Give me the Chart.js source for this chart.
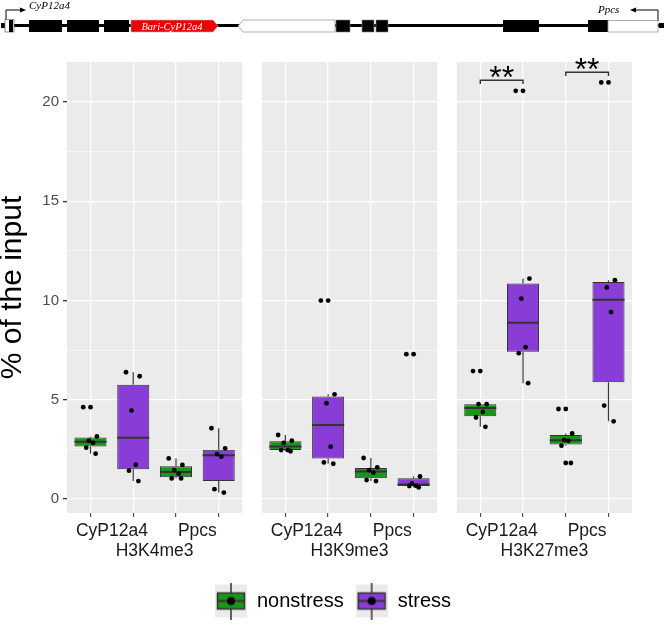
<!DOCTYPE html>
<html>
<head>
<meta charset="utf-8">
<script src="https://cdn.jsdelivr.net/npm/chart.js@4.4.1/dist/chart.umd.min.js"></script>
<style>
  html, body { margin: 0; padding: 0; background: #fff; }
  #wrap { position: relative; width: 666px; height: 625px; }
  #chart, #genes { position: absolute; left: 0; top: 0; }
</style>
</head>
<body>
<div id="wrap">
  <canvas id="chart" width="666" height="625"></canvas>
  <!-- gene model schematic above the plot -->
  <svg id="genes" width="666" height="46" viewBox="0 0 666 46">
    <line x1="2" y1="25.5" x2="664" y2="25.5" stroke="#000" stroke-width="3"/>
    <rect x="1" y="23" width="4" height="5" fill="#000"/>
    <rect x="659" y="23" width="5" height="5" fill="#000"/>
    <rect x="5" y="19.5" width="9" height="12.5" fill="#fff" stroke="#777" stroke-width="0.8"/>
    <rect x="9" y="20" width="4" height="12" fill="#000"/>
    <polyline points="6,19.5 6,10 22,10" fill="none" stroke="#000" stroke-width="1"/>
    <polygon points="20,7.5 26,10 20,12.5" fill="#000"/>
    <text x="29" y="9" font-family="'Liberation Serif', serif" font-style="italic" font-size="11">CyP12a4</text>
    <rect x="29" y="20" width="33" height="12" fill="#000"/>
    <rect x="67" y="20" width="32" height="12" fill="#000"/>
    <rect x="104" y="20" width="25" height="12" fill="#000"/>
    <polygon points="131,20 213,20 218,26 213,32 131,32" fill="#ee0000" stroke="#bbb" stroke-width="0.6"/>
    <text x="172" y="29.5" text-anchor="middle" fill="#fff" font-family="'Liberation Serif', serif" font-style="italic" font-size="10.5">Bari-CyP12a4</text>
    <polygon points="238,26 243,20 335,20 335,32 243,32" fill="#fff" stroke="#999" stroke-width="0.8"/>
    <rect x="336" y="20" width="14" height="12" fill="#000" stroke="#888" stroke-width="0.6"/>
    <rect x="362" y="20" width="12" height="12" fill="#000" stroke="#888" stroke-width="0.6"/>
    <rect x="376" y="20" width="12" height="12" fill="#000" stroke="#888" stroke-width="0.6"/>
    <rect x="503" y="20" width="36" height="12" fill="#000"/>
    <rect x="588" y="20" width="20" height="12" fill="#000"/>
    <rect x="608" y="20.5" width="50" height="11.5" fill="#fff" stroke="#999" stroke-width="0.8"/>
    <polyline points="658,20.5 658,10 634,10" fill="none" stroke="#000" stroke-width="1"/>
    <polygon points="636,7.5 630,10 636,12.5" fill="#000"/>
    <text x="598" y="13" font-family="'Liberation Serif', serif" font-style="italic" font-size="11">Ppcs</text>
  </svg>
</div>
<script>
// ---- data (% of the input, 6 replicates per box) ----
const marks = ["H3K4me3", "H3K9me3", "H3K27me3"];
const genes = ["CyP12a4", "Ppcs"];
const conditions = ["nonstress", "stress"];

// order in each mark: CyP12a4 nonstress, CyP12a4 stress, Ppcs nonstress, Ppcs stress
const h3k4me3 = [
  [2.29, 2.59, 2.83, 2.94, 3.16, 4.63],
  [0.91, 1.43, 1.73, 4.46, 6.19, 6.39],
  [1.04, 1.04, 1.28, 1.46, 1.72, 2.05],
  [0.33, 0.50, 2.14, 2.27, 2.56, 3.57]
];
const h3k9me3 = [
  [2.41, 2.47, 2.47, 2.83, 2.94, 3.23],
  [1.78, 1.85, 2.64, 4.83, 5.28, 10.0],
  [0.91, 0.96, 1.33, 1.46, 1.60, 2.07],
  [0.59, 0.66, 0.67, 0.79, 1.14, 7.30]
];
const h3k27me3 = [
  [3.64, 4.11, 4.39, 4.78, 4.78, 6.45],
  [5.84, 7.35, 7.66, 10.1, 11.11, 20.57],
  [1.82, 2.69, 2.94, 2.98, 3.31, 4.54],
  [3.92, 4.71, 9.42, 10.66, 11.03, 20.99]
];

const yTicks = [0, 5, 10, 15, 20];

// significance brackets, H3K27me3 panel
const sigGene = [0, 1];
const sigY = [21.1, 21.5];
const sigText = ["**", "**"];

// ---- layout / style ----
const FONT = "'Liberation Sans', Arial, Helvetica, sans-serif";
const COLORS = ["#189818", "#8a3cd6"];
const PANEL_STEP = 4.56;   // x distance between facets
const X_EXPAND = 0.55;
const BOX_W = 0.75;
const JITTER = [0.12, -0.1, 0.06, -0.04, 0.15, -0.17];

function quantile(s, p) {
  const h = (s.length - 1) * p, lo = Math.floor(h), hi = Math.min(lo + 1, s.length - 1);
  return s[lo] + (h - lo) * (s[hi] - s[lo]);
}

function boxStats(vals) {
  const s = vals.slice().sort((a, b) => a - b);
  const q1 = quantile(s, 0.25), med = quantile(s, 0.5), q3 = quantile(s, 0.75);
  const iqr = q3 - q1, loF = q1 - 1.5 * iqr, hiF = q3 + 1.5 * iqr;
  const inside = s.filter(v => v >= loF && v <= hiF);
  return {
    q1, med, q3,
    lo: inside[0], hi: inside[inside.length - 1],
    out: s.filter(v => v < loF || v > hiF)
  };
}

const panels = [h3k4me3, h3k9me3, h3k27me3];
const boxes = [];
panels.forEach((panel, p) => {
  panel.forEach((vals, k) => {
    boxes.push(Object.assign({ x: p * PANEL_STEP + k + 1, cond: k % 2, vals }, boxStats(vals)));
  });
});

const catPos = boxes.map(b => b.x);
const genePos = [];
const markPos = [];
marks.forEach((m, p) => {
  genePos.push(p * PANEL_STEP + 1.5, p * PANEL_STEP + 3.5);
  markPos.push(p * PANEL_STEP + 2.5);
});
const xMin = 1 - X_EXPAND;
const xMax = (marks.length - 1) * PANEL_STEP + 4 + X_EXPAND;

const whiskers = [];
const medians = [];
const outliers = [];
const points = [];
boxes.forEach(b => {
  whiskers.push({ x: b.x, y: b.lo }, { x: b.x, y: b.q1 }, { x: b.x, y: null },
                { x: b.x, y: b.q3 }, { x: b.x, y: b.hi }, { x: b.x, y: null });
  medians.push({ x: b.x - BOX_W / 2, y: b.med }, { x: b.x + BOX_W / 2, y: b.med }, { x: b.x, y: null });
  b.out.forEach(v => outliers.push({ x: b.x, y: v }));
  b.vals.forEach((v, i) => points.push({ x: b.x + JITTER[i % JITTER.length], y: v }));
});

const brackets = [];
sigGene.forEach((g, i) => {
  const x1 = 2 * PANEL_STEP + g * 2 + 1, x2 = x1 + 1;
  brackets.push({ x: x1, y: sigY[i] - 0.19 }, { x: x1, y: sigY[i] }, { x: x2, y: sigY[i] },
                { x: x2, y: sigY[i] - 0.19 }, { x: x2, y: null });
});

// grey facet backgrounds
const panelBg = {
  id: "panelBg",
  beforeDraw(chart) {
    const { ctx, chartArea, scales } = chart;
    ctx.save();
    ctx.fillStyle = "#ebebeb";
    marks.forEach((m, p) => {
      const l = scales.x.getPixelForValue(p * PANEL_STEP + 1 - X_EXPAND);
      const r = scales.x.getPixelForValue(p * PANEL_STEP + 4 + X_EXPAND);
      ctx.fillRect(l, chartArea.top, r - l, chartArea.bottom - chartArea.top);
    });
    ctx.restore();
  }
};

// "**" above the brackets
const sigLabels = {
  id: "sigLabels",
  afterDatasetsDraw(chart) {
    const { ctx, scales } = chart;
    ctx.save();
    ctx.font = "32px " + FONT;
    ctx.fillStyle = "#000";
    ctx.textAlign = "center";
    ctx.textBaseline = "alphabetic";
    sigGene.forEach((g, i) => {
      const xc = scales.x.getPixelForValue(2 * PANEL_STEP + g * 2 + 1.5);
      const cy = scales.y.getPixelForValue(sigY[i]) - 8.5;
      const m = ctx.measureText(sigText[i]);
      const off = (m.actualBoundingBoxAscent - m.actualBoundingBoxDescent) / 2;
      ctx.fillText(sigText[i], xc, cy + off);
    });
    ctx.restore();
  }
};

// centre the legend on the whole page, not only on the padded area
const legendCenter = {
  id: "legendCenter",
  afterLayout(chart) {
    const lg = chart.legend;
    if (!lg) return;
    lg.left = 0;
    lg.right = chart.width;
    lg.width = chart.width;
  }
};

function legendKey(color) {
  const c = document.createElement("canvas");
  c.width = 32; c.height = 37;
  const g = c.getContext("2d");
  g.fillStyle = "#ebebeb";
  g.fillRect(0, 2, 32, 33);
  g.strokeStyle = "#333";
  g.lineWidth = 1.5;
  g.beginPath();
  g.moveTo(16, 0); g.lineTo(16, 10);
  g.moveTo(16, 27); g.lineTo(16, 37);
  g.stroke();
  g.fillStyle = color;
  g.fillRect(2, 10, 28, 17);
  g.strokeRect(2.5, 10.5, 27, 16);
  g.lineWidth = 2;
  g.beginPath();
  g.moveTo(2, 18.5); g.lineTo(30, 18.5);
  g.stroke();
  g.fillStyle = "#000";
  g.beginPath();
  g.arc(16, 18.5, 4, 0, Math.PI * 2);
  g.fill();
  return c;
}

Chart.defaults.font.family = FONT;

new Chart(document.getElementById("chart"), {
  type: "bar",
  data: {
    datasets: [
      {
        type: "line", data: whiskers, order: 5,
        borderColor: "#3a3a3a", borderWidth: 1.2, pointRadius: 0, spanGaps: false, fill: false
      },
      {
        type: "bar", data: boxes.map(b => ({ x: b.x, y: [b.q1, b.q3] })), order: 4,
        backgroundColor: boxes.map(b => COLORS[b.cond]),
        borderColor: "#333", borderWidth: 1, borderSkipped: false,
        barPercentage: BOX_W, categoryPercentage: 1
      },
      {
        type: "line", data: medians, order: 3,
        borderColor: "#333", borderWidth: 2, pointRadius: 0, spanGaps: false, fill: false
      },
      {
        type: "scatter", data: outliers, order: 2,
        pointRadius: 2.4, pointBackgroundColor: "#000", pointBorderWidth: 0
      },
      {
        type: "scatter", data: points, order: 1,
        pointRadius: 2.4, pointBackgroundColor: "#000", pointBorderWidth: 0
      },
      {
        type: "line", data: brackets, order: 0, clip: false,
        borderColor: "#333", borderWidth: 1.4, pointRadius: 0, spanGaps: false, fill: false
      }
    ]
  },
  options: {
    responsive: false,
    maintainAspectRatio: false,
    animation: false,
    devicePixelRatio: 1,
    layout: { padding: { top: 62, right: 34, left: 0, bottom: 4 } },
    plugins: {
      tooltip: { enabled: false },
      legend: {
        position: "bottom",
        onClick: null,
        labels: {
          usePointStyle: true,
          pointStyleWidth: 32,
          padding: 12,
          color: "#000",
          font: { size: 20 },
          generateLabels: () => conditions.map((c, i) => ({
            text: c, pointStyle: legendKey(COLORS[i]), fillStyle: COLORS[i],
            strokeStyle: "transparent", lineWidth: 0, hidden: false, fontColor: "#000"
          }))
        }
      }
    },
    scales: {
      x: {
        type: "linear", position: "bottom", weight: 0,
        min: xMin, max: xMax, offset: false,
        afterBuildTicks: axis => { axis.ticks = catPos.map(v => ({ value: v })); },
        afterFit: axis => { axis.height = 4; },
        ticks: { display: false },
        grid: { color: "#fff", lineWidth: 1.3, offset: false, drawTicks: true, tickLength: 4, tickColor: "#333", tickWidth: 1 },
        border: { display: false }
      },
      xg: {
        type: "linear", position: "bottom", weight: 1,
        min: xMin, max: xMax, offset: false,
        afterBuildTicks: axis => { axis.ticks = genePos.map(v => ({ value: v })); },
        afterFit: axis => { axis.height = 24; },
        ticks: { autoSkip: false, maxRotation: 0, padding: 4, color: "#1a1a1a", font: { size: 17.5 },
                 callback: (v, i) => genes[i % genes.length] },
        grid: { display: false, drawTicks: false },
        border: { display: false }
      },
      xm: {
        type: "linear", position: "bottom", weight: 2,
        min: xMin, max: xMax, offset: false,
        afterBuildTicks: axis => { axis.ticks = markPos.map(v => ({ value: v })); },
        afterFit: axis => { axis.height = 38; },
        ticks: { autoSkip: false, maxRotation: 0, padding: 0, color: "#1a1a1a", font: { size: 17.5 },
                 callback: (v, i) => marks[i] },
        grid: { display: false, drawTicks: false },
        border: { display: false }
      },
      y: {
        type: "linear", min: -0.7, max: 22.02,
        afterBuildTicks: axis => {
          const minor = yTicks.slice(0, -1).map((v, i) => (v + yTicks[i + 1]) / 2);
          axis.ticks = yTicks.concat(minor).sort((a, b) => a - b).map(v => ({ value: v }));
        },
        afterFit: axis => { axis.width = 67; },
        ticks: {
          padding: 4, color: "#4d4d4d", font: { size: 15 },
          callback: v => (yTicks.includes(v) ? String(v) : "")
        },
        grid: {
          color: "#fff",
          lineWidth: c => (yTicks.includes(c.tick.value) ? 1.3 : 0.6),
          tickLength: 4,
          tickColor: c => (yTicks.includes(c.tick.value) ? "#333" : "rgba(0,0,0,0)")
        },
        border: { display: false },
        title: {
          display: true, text: "% of the input", color: "#000",
          font: { size: 30, lineHeight: 0.85 }, padding: 0
        }
      }
    }
  },
  plugins: [panelBg, sigLabels, legendCenter]
});
</script>
</body>
</html>
